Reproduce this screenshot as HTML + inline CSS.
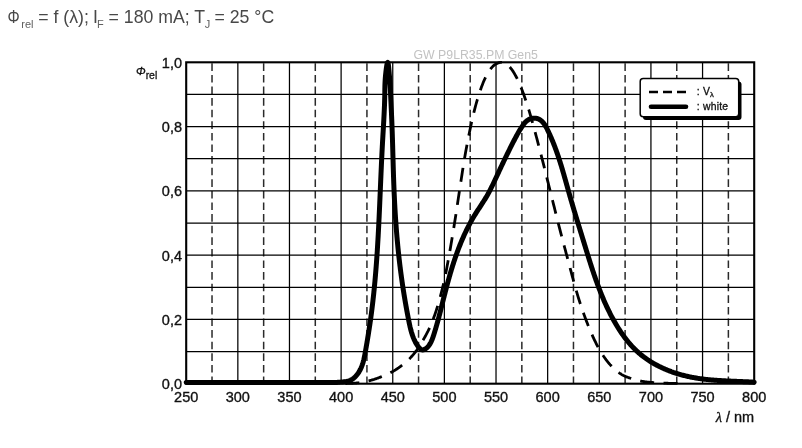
<!DOCTYPE html>
<html><head><meta charset="utf-8"><style>
html,body{margin:0;padding:0;background:#fff;width:802px;height:448px;overflow:hidden}
svg{display:block;will-change:transform}
text{font-family:"Liberation Sans",sans-serif}
.g{stroke:#000;stroke-width:1.25}
.gd{stroke:#2a2a2a;stroke-width:1.5;stroke-dasharray:7.6 4;stroke-dashoffset:-1}
.frame{fill:none;stroke:#000;stroke-width:2.1}
.vl{fill:none;stroke:#000;stroke-width:2.8;stroke-dasharray:14 9.4;stroke-dashoffset:21.9}
.wh{fill:none;stroke:#000;stroke-width:5;stroke-linejoin:round;stroke-linecap:round}
.lg{font-size:10.4px;fill:#111;letter-spacing:0.2px;stroke:#111;stroke-width:0.3px}
.ax{font-size:14.5px;fill:#111;stroke:#111;stroke-width:0.35px}
.phi{font-size:11.5px;fill:#111;stroke:#111;stroke-width:0.3px}
.wm{font-size:12.3px;fill:#c2c2c2}
.title text{font-size:17.7px;fill:#484848}
</style></head><body>
<svg width="802" height="448" viewBox="0 0 802 448">
<line x1="237.84" y1="62.3" x2="237.84" y2="383.7" class="g"/>
<line x1="289.47" y1="62.3" x2="289.47" y2="383.7" class="g"/>
<line x1="341.11" y1="62.3" x2="341.11" y2="383.7" class="g"/>
<line x1="392.75" y1="62.3" x2="392.75" y2="383.7" class="g"/>
<line x1="444.38" y1="62.3" x2="444.38" y2="383.7" class="g"/>
<line x1="496.02" y1="62.3" x2="496.02" y2="383.7" class="g"/>
<line x1="547.65" y1="62.3" x2="547.65" y2="383.7" class="g"/>
<line x1="599.29" y1="62.3" x2="599.29" y2="383.7" class="g"/>
<line x1="650.93" y1="62.3" x2="650.93" y2="383.7" class="g"/>
<line x1="702.56" y1="62.3" x2="702.56" y2="383.7" class="g"/>
<line x1="212.02" y1="62.3" x2="212.02" y2="383.7" class="gd"/>
<line x1="263.65" y1="62.3" x2="263.65" y2="383.7" class="gd"/>
<line x1="315.29" y1="62.3" x2="315.29" y2="383.7" class="gd"/>
<line x1="366.93" y1="62.3" x2="366.93" y2="383.7" class="gd"/>
<line x1="418.56" y1="62.3" x2="418.56" y2="383.7" class="gd"/>
<line x1="470.20" y1="62.3" x2="470.20" y2="383.7" class="gd"/>
<line x1="521.84" y1="62.3" x2="521.84" y2="383.7" class="gd"/>
<line x1="573.47" y1="62.3" x2="573.47" y2="383.7" class="gd"/>
<line x1="625.11" y1="62.3" x2="625.11" y2="383.7" class="gd"/>
<line x1="676.75" y1="62.3" x2="676.75" y2="383.7" class="gd"/>
<line x1="728.38" y1="62.3" x2="728.38" y2="383.7" class="gd"/>
<line x1="186.2" y1="351.56" x2="754.2" y2="351.56" class="g"/>
<line x1="186.2" y1="319.42" x2="754.2" y2="319.42" class="g"/>
<line x1="186.2" y1="287.28" x2="754.2" y2="287.28" class="g"/>
<line x1="186.2" y1="255.14" x2="754.2" y2="255.14" class="g"/>
<line x1="186.2" y1="223.00" x2="754.2" y2="223.00" class="g"/>
<line x1="186.2" y1="190.86" x2="754.2" y2="190.86" class="g"/>
<line x1="186.2" y1="158.72" x2="754.2" y2="158.72" class="g"/>
<line x1="186.2" y1="126.58" x2="754.2" y2="126.58" class="g"/>
<line x1="186.2" y1="94.44" x2="754.2" y2="94.44" class="g"/>
<rect x="186.2" y="62.3" width="568.00" height="321.40" class="frame"/>
<path d="M320.45,383.69 L320.97,383.69 L321.49,383.69 L322.00,383.69 L322.52,383.69 L323.04,383.68 L323.55,383.68 L324.07,383.68 L324.59,383.68 L325.10,383.68 L325.62,383.68 L326.13,383.68 L326.65,383.68 L327.17,383.68 L327.68,383.67 L328.20,383.67 L328.72,383.67 L329.23,383.67 L329.75,383.67 L330.27,383.66 L330.78,383.66 L331.30,383.66 L331.81,383.66 L332.33,383.65 L332.85,383.65 L333.36,383.65 L333.88,383.64 L334.40,383.64 L334.91,383.64 L335.43,383.63 L335.95,383.63 L336.46,383.63 L336.98,383.62 L337.49,383.62 L338.01,383.61 L338.53,383.60 L339.04,383.60 L339.56,383.59 L340.08,383.59 L340.59,383.58 L341.11,383.57 L341.63,383.57 L342.14,383.56 L342.66,383.55 L343.17,383.55 L343.69,383.54 L344.21,383.53 L344.72,383.52 L345.24,383.51 L345.76,383.50 L346.27,383.49 L346.79,383.48 L347.31,383.47 L347.82,383.45 L348.34,383.44 L348.85,383.42 L349.37,383.40 L349.89,383.38 L350.40,383.36 L350.92,383.33 L351.44,383.31 L351.95,383.29 L352.47,383.26 L352.99,383.24 L353.50,383.21 L354.02,383.18 L354.53,383.15 L355.05,383.11 L355.57,383.08 L356.08,383.04 L356.60,383.00 L357.12,382.96 L357.63,382.91 L358.15,382.86 L358.67,382.81 L359.18,382.75 L359.70,382.69 L360.21,382.63 L360.73,382.56 L361.25,382.49 L361.76,382.41 L362.28,382.33 L362.80,382.25 L363.31,382.15 L363.83,382.05 L364.35,381.94 L364.86,381.83 L365.38,381.71 L365.89,381.59 L366.41,381.47 L366.93,381.35 L367.44,381.23 L367.96,381.11 L368.48,380.97 L368.99,380.84 L369.51,380.70 L370.03,380.56 L370.54,380.42 L371.06,380.27 L371.57,380.12 L372.09,379.97 L372.61,379.82 L373.12,379.66 L373.64,379.50 L374.16,379.34 L374.67,379.17 L375.19,379.00 L375.71,378.82 L376.22,378.65 L376.74,378.47 L377.25,378.29 L377.77,378.10 L378.29,377.92 L378.80,377.72 L379.32,377.53 L379.84,377.33 L380.35,377.13 L380.87,376.93 L381.39,376.72 L381.90,376.52 L382.42,376.31 L382.93,376.10 L383.45,375.89 L383.97,375.68 L384.48,375.47 L385.00,375.25 L385.52,375.04 L386.03,374.81 L386.55,374.59 L387.07,374.36 L387.58,374.12 L388.10,373.88 L388.61,373.64 L389.13,373.38 L389.65,373.13 L390.16,372.87 L390.68,372.60 L391.20,372.33 L391.71,372.06 L392.23,371.77 L392.75,371.49 L393.26,371.19 L393.78,370.89 L394.29,370.59 L394.81,370.28 L395.33,369.96 L395.84,369.63 L396.36,369.30 L396.88,368.96 L397.39,368.62 L397.91,368.27 L398.43,367.92 L398.94,367.56 L399.46,367.19 L399.97,366.81 L400.49,366.42 L401.01,366.03 L401.52,365.64 L402.04,365.23 L402.56,364.83 L403.07,364.42 L403.59,364.00 L404.11,363.58 L404.62,363.15 L405.14,362.72 L405.65,362.28 L406.17,361.83 L406.69,361.38 L407.20,360.91 L407.72,360.44 L408.24,359.95 L408.75,359.45 L409.27,358.94 L409.79,358.43 L410.30,357.90 L410.82,357.35 L411.33,356.80 L411.85,356.24 L412.37,355.66 L412.88,355.07 L413.40,354.46 L413.92,353.84 L414.43,353.20 L414.95,352.54 L415.47,351.86 L415.98,351.17 L416.50,350.47 L417.01,349.75 L417.53,349.02 L418.05,348.27 L418.56,347.51 L419.08,346.74 L419.60,345.94 L420.11,345.12 L420.63,344.29 L421.15,343.44 L421.66,342.58 L422.18,341.70 L422.69,340.82 L423.21,339.92 L423.73,339.02 L424.24,338.11 L424.76,337.20 L425.28,336.27 L425.79,335.34 L426.31,334.38 L426.83,333.41 L427.34,332.42 L427.86,331.41 L428.37,330.36 L428.89,329.29 L429.41,328.18 L429.92,327.05 L430.44,325.88 L430.96,324.69 L431.47,323.46 L431.99,322.20 L432.51,320.91 L433.02,319.59 L433.54,318.23 L434.05,316.84 L434.57,315.41 L435.09,313.93 L435.60,312.41 L436.12,310.84 L436.64,309.23 L437.15,307.58 L437.67,305.89 L438.19,304.16 L438.70,302.39 L439.22,300.59 L439.73,298.74 L440.25,296.85 L440.77,294.92 L441.28,292.93 L441.80,290.89 L442.32,288.80 L442.83,286.66 L443.35,284.46 L443.87,282.20 L444.38,279.89 L444.90,277.49 L445.41,274.99 L445.93,272.40 L446.45,269.74 L446.96,267.01 L447.48,264.23 L448.00,261.40 L448.51,258.55 L449.03,255.67 L449.55,252.79 L450.06,249.89 L450.58,246.94 L451.09,243.94 L451.61,240.91 L452.13,237.84 L452.64,234.74 L453.16,231.60 L453.68,228.44 L454.19,225.25 L454.71,222.04 L455.23,218.78 L455.74,215.46 L456.26,212.09 L456.77,208.69 L457.29,205.26 L457.81,201.82 L458.32,198.39 L458.84,194.97 L459.36,191.58 L459.87,188.22 L460.39,184.88 L460.91,181.51 L461.42,178.12 L461.94,174.74 L462.45,171.39 L462.97,168.07 L463.49,164.80 L464.00,161.61 L464.52,158.51 L465.04,155.51 L465.55,152.59 L466.07,149.73 L466.59,146.93 L467.10,144.18 L467.62,141.48 L468.13,138.84 L468.65,136.25 L469.17,133.70 L469.68,131.21 L470.20,128.77 L470.72,126.36 L471.23,123.98 L471.75,121.64 L472.27,119.34 L472.78,117.09 L473.30,114.88 L473.81,112.73 L474.33,110.64 L474.85,108.61 L475.36,106.65 L475.88,104.75 L476.40,102.89 L476.91,101.07 L477.43,99.30 L477.95,97.57 L478.46,95.88 L478.98,94.25 L479.49,92.67 L480.01,91.14 L480.53,89.67 L481.04,88.23 L481.56,86.83 L482.08,85.46 L482.59,84.13 L483.11,82.83 L483.63,81.58 L484.14,80.38 L484.66,79.22 L485.17,78.13 L485.69,77.08 L486.21,76.08 L486.72,75.10 L487.24,74.15 L487.76,73.23 L488.27,72.35 L488.79,71.51 L489.31,70.71 L489.82,69.96 L490.34,69.27 L490.85,68.63 L491.37,68.03 L491.89,67.44 L492.40,66.88 L492.92,66.34 L493.44,65.82 L493.95,65.35 L494.47,64.91 L494.99,64.53 L495.50,64.20 L496.02,63.92 L496.53,63.68 L497.05,63.45 L497.57,63.22 L498.08,63.00 L498.60,62.81 L499.12,62.64 L499.63,62.50 L500.15,62.39 L500.67,62.32 L501.18,62.30 L501.70,62.32 L502.21,62.39 L502.73,62.49 L503.25,62.63 L503.76,62.80 L504.28,62.99 L504.80,63.20 L505.31,63.42 L505.83,63.66 L506.35,63.91 L506.86,64.20 L507.38,64.56 L507.89,65.00 L508.41,65.49 L508.93,66.04 L509.44,66.62 L509.96,67.24 L510.48,67.87 L510.99,68.52 L511.51,69.18 L512.03,69.86 L512.54,70.58 L513.06,71.36 L513.57,72.18 L514.09,73.03 L514.61,73.92 L515.12,74.84 L515.64,75.78 L516.16,76.74 L516.67,77.73 L517.19,78.74 L517.71,79.80 L518.22,80.90 L518.74,82.04 L519.25,83.22 L519.77,84.42 L520.29,85.66 L520.80,86.92 L521.32,88.20 L521.84,89.49 L522.35,90.81 L522.87,92.17 L523.39,93.56 L523.90,94.98 L524.42,96.44 L524.93,97.92 L525.45,99.43 L525.97,100.96 L526.48,102.51 L527.00,104.08 L527.52,105.68 L528.03,107.32 L528.55,108.99 L529.07,110.70 L529.58,112.42 L530.10,114.18 L530.61,115.95 L531.13,117.73 L531.65,119.53 L532.16,121.34 L532.68,123.17 L533.20,125.02 L533.71,126.89 L534.23,128.79 L534.75,130.70 L535.26,132.62 L535.78,134.56 L536.29,136.50 L536.81,138.45 L537.33,140.40 L537.84,142.36 L538.36,144.32 L538.88,146.30 L539.39,148.29 L539.91,150.29 L540.43,152.29 L540.94,154.30 L541.46,156.32 L541.97,158.34 L542.49,160.36 L543.01,162.39 L543.52,164.43 L544.04,166.47 L544.56,168.53 L545.07,170.59 L545.59,172.65 L546.11,174.71 L546.62,176.77 L547.14,178.84 L547.65,180.90 L548.17,182.96 L548.69,185.02 L549.20,187.08 L549.72,189.15 L550.24,191.22 L550.75,193.28 L551.27,195.35 L551.79,197.41 L552.30,199.47 L552.82,201.53 L553.33,203.59 L553.85,205.65 L554.37,207.71 L554.88,209.77 L555.40,211.83 L555.92,213.89 L556.43,215.94 L556.95,217.98 L557.47,220.01 L557.98,222.04 L558.50,224.05 L559.01,226.06 L559.53,228.06 L560.05,230.05 L560.56,232.04 L561.08,234.02 L561.60,236.00 L562.11,237.97 L562.63,239.94 L563.15,241.90 L563.66,243.85 L564.18,245.80 L564.69,247.74 L565.21,249.68 L565.73,251.61 L566.24,253.54 L566.76,255.46 L567.28,257.39 L567.79,259.32 L568.31,261.25 L568.83,263.18 L569.34,265.13 L569.86,267.08 L570.37,269.03 L570.89,270.98 L571.41,272.92 L571.92,274.85 L572.44,276.76 L572.96,278.66 L573.47,280.53 L573.99,282.39 L574.51,284.25 L575.02,286.11 L575.54,287.95 L576.05,289.78 L576.57,291.59 L577.09,293.37 L577.60,295.13 L578.12,296.85 L578.64,298.53 L579.15,300.18 L579.67,301.80 L580.19,303.40 L580.70,304.97 L581.22,306.52 L581.73,308.05 L582.25,309.55 L582.77,311.04 L583.28,312.51 L583.80,313.96 L584.32,315.39 L584.83,316.80 L585.35,318.19 L585.87,319.57 L586.38,320.93 L586.90,322.27 L587.41,323.59 L587.93,324.90 L588.45,326.19 L588.96,327.45 L589.48,328.71 L590.00,329.95 L590.51,331.18 L591.03,332.39 L591.55,333.59 L592.06,334.77 L592.58,335.93 L593.09,337.07 L593.61,338.19 L594.13,339.28 L594.64,340.36 L595.16,341.43 L595.68,342.48 L596.19,343.51 L596.71,344.53 L597.23,345.53 L597.74,346.50 L598.26,347.46 L598.77,348.40 L599.29,349.31 L599.81,350.20 L600.32,351.08 L600.84,351.94 L601.36,352.78 L601.87,353.60 L602.39,354.41 L602.91,355.20 L603.42,355.98 L603.94,356.73 L604.45,357.47 L604.97,358.20 L605.49,358.91 L606.00,359.61 L606.52,360.29 L607.04,360.96 L607.55,361.62 L608.07,362.26 L608.59,362.89 L609.10,363.50 L609.62,364.09 L610.13,364.68 L610.65,365.25 L611.17,365.81 L611.68,366.36 L612.20,366.90 L612.72,367.42 L613.23,367.93 L613.75,368.43 L614.27,368.91 L614.78,369.37 L615.30,369.83 L615.81,370.27 L616.33,370.71 L616.85,371.13 L617.36,371.55 L617.88,371.95 L618.40,372.34 L618.91,372.72 L619.43,373.07 L619.95,373.42 L620.46,373.74 L620.98,374.06 L621.49,374.37 L622.01,374.67 L622.53,374.95 L623.04,375.23 L623.56,375.50 L624.08,375.76 L624.59,376.00 L625.11,376.24 L625.63,376.47 L626.14,376.69 L626.66,376.90 L627.17,377.11 L627.69,377.31 L628.21,377.50 L628.72,377.69 L629.24,377.87 L629.76,378.06 L630.27,378.24 L630.79,378.41 L631.31,378.59 L631.82,378.77 L632.34,378.94 L632.85,379.10 L633.37,379.27 L633.89,379.43 L634.40,379.58 L634.92,379.73 L635.44,379.87 L635.95,380.01 L636.47,380.14 L636.99,380.27 L637.50,380.40 L638.02,380.52 L638.53,380.64 L639.05,380.75 L639.57,380.86 L640.08,380.96 L640.60,381.06 L641.12,381.16 L641.63,381.25 L642.15,381.33 L642.67,381.42 L643.18,381.50 L643.70,381.58 L644.21,381.66 L644.73,381.73 L645.25,381.80 L645.76,381.86 L646.28,381.92 L646.80,381.98 L647.31,382.04 L647.83,382.09 L648.35,382.15 L648.86,382.20 L649.38,382.24 L649.89,382.29 L650.41,382.34 L650.93,382.38 L651.44,382.42 L651.96,382.47 L652.48,382.51 L652.99,382.55 L653.51,382.59 L654.03,382.62 L654.54,382.66 L655.06,382.69 L655.57,382.73 L656.09,382.76 L656.61,382.79 L657.12,382.82 L657.64,382.85 L658.16,382.88 L658.67,382.90 L659.19,382.93 L659.71,382.96 L660.22,382.98 L660.74,383.00 L661.25,383.03 L661.77,383.05 L662.29,383.07 L662.80,383.09 L663.32,383.11 L663.84,383.13 L664.35,383.15 L664.87,383.17 L665.39,383.19 L665.90,383.21 L666.42,383.22 L666.93,383.24 L667.45,383.25 L667.97,383.27 L668.48,383.28 L669.00,383.30 L669.52,383.31 L670.03,383.33 L670.55,383.34 L671.07,383.35 L671.58,383.36 L672.10,383.37 L672.61,383.39 L673.13,383.40 L673.65,383.41 L674.16,383.42 L674.68,383.43 L675.20,383.44 L675.71,383.45 L676.23,383.45 L676.75,383.46 L677.26,383.47 L677.78,383.48 L678.29,383.49 L678.81,383.49 L679.33,383.50 L679.84,383.51 L680.36,383.51 L680.88,383.52 L681.39,383.53 L681.91,383.53" class="vl"/>
<path d="M186.20,382.41 L336.98,382.43 L337.81,382.35 L338.65,382.27 L339.49,382.20 L340.34,382.13 L341.20,382.06 L342.06,381.99 L342.92,381.91 L343.77,381.82 L344.63,381.71 L345.47,381.59 L346.32,381.44 L347.15,381.26 L347.97,381.06 L348.78,380.82 L349.57,380.55 L350.35,380.23 L351.11,379.87 L351.85,379.47 L352.57,379.01 L353.26,378.51 L353.94,377.97 L354.59,377.40 L355.22,376.78 L355.83,376.14 L356.42,375.47 L356.98,374.78 L357.52,374.06 L358.04,373.33 L358.54,372.58 L359.01,371.83 L359.46,371.06 L359.88,370.29 L360.29,369.52 L360.67,368.75 L361.03,367.97 L361.37,367.19 L361.69,366.41 L361.99,365.63 L362.28,364.84 L362.54,364.05 L362.80,363.26 L363.04,362.46 L363.27,361.67 L363.48,360.87 L363.69,360.07 L363.88,359.26 L364.06,358.46 L364.24,357.65 L364.41,356.84 L364.57,356.03 L364.73,355.22 L364.89,354.40 L365.04,353.58 L365.18,352.77 L365.33,351.94 L365.48,351.12 L365.62,350.30 L365.77,349.47 L365.92,348.65 L366.06,347.82 L366.21,346.99 L366.35,346.15 L366.49,345.32 L366.64,344.49 L366.78,343.65 L366.92,342.81 L367.06,341.98 L367.21,341.14 L367.35,340.30 L367.49,339.45 L367.63,338.61 L367.77,337.77 L367.90,336.92 L368.04,336.08 L368.18,335.23 L368.31,334.39 L368.45,333.54 L368.58,332.69 L368.72,331.84 L368.85,330.99 L368.98,330.14 L369.11,329.29 L369.24,328.44 L369.37,327.59 L369.50,326.74 L369.63,325.89 L369.76,325.03 L369.88,324.18 L370.01,323.33 L370.13,322.48 L370.25,321.62 L370.38,320.77 L370.50,319.92 L370.62,319.07 L370.73,318.21 L370.85,317.36 L370.97,316.51 L371.08,315.66 L371.20,314.80 L371.31,313.95 L371.42,313.10 L371.53,312.25 L371.64,311.40 L371.75,310.55 L371.86,309.69 L371.97,308.84 L372.07,307.99 L372.18,307.14 L372.28,306.29 L372.38,305.44 L372.49,304.58 L372.59,303.73 L372.69,302.88 L372.79,302.03 L372.89,301.18 L372.98,300.33 L373.08,299.48 L373.17,298.63 L373.27,297.78 L373.36,296.93 L373.45,296.08 L373.55,295.23 L373.64,294.38 L373.73,293.52 L373.82,292.67 L373.90,291.82 L373.99,290.97 L374.08,290.12 L374.16,289.27 L374.25,288.42 L374.33,287.57 L374.42,286.72 L374.50,285.87 L374.58,285.02 L374.66,284.17 L374.74,283.32 L374.82,282.47 L374.90,281.62 L374.98,280.77 L375.05,279.93 L375.13,279.08 L375.20,278.23 L375.28,277.38 L375.35,276.53 L375.43,275.68 L375.50,274.83 L375.57,273.98 L375.64,273.13 L375.71,272.28 L375.78,271.43 L375.85,270.58 L375.92,269.73 L375.99,268.88 L376.05,268.03 L376.12,267.19 L376.18,266.34 L376.25,265.49 L376.31,264.64 L376.38,263.79 L376.44,262.94 L376.50,262.09 L376.56,261.24 L376.63,260.39 L376.69,259.55 L376.75,258.70 L376.81,257.85 L376.86,257.00 L376.92,256.15 L376.98,255.30 L377.04,254.45 L377.09,253.60 L377.15,252.76 L377.21,251.91 L377.26,251.06 L377.32,250.21 L377.37,249.36 L377.42,248.51 L377.48,247.66 L377.53,246.82 L377.58,245.97 L377.63,245.12 L377.68,244.27 L377.73,243.42 L377.78,242.57 L377.83,241.72 L377.88,240.88 L377.93,240.03 L377.98,239.18 L378.03,238.33 L378.08,237.48 L378.12,236.63 L378.17,235.78 L378.22,234.94 L378.26,234.09 L378.31,233.24 L378.35,232.39 L378.40,231.54 L378.44,230.69 L378.49,229.84 L378.53,229.00 L378.58,228.15 L378.62,227.30 L378.66,226.45 L378.70,225.60 L378.75,224.75 L378.79,223.90 L378.83,223.06 L378.87,222.21 L378.91,221.36 L378.95,220.51 L378.99,219.66 L379.04,218.81 L379.08,217.96 L379.12,217.11 L379.16,216.27 L379.19,215.42 L379.23,214.57 L379.27,213.72 L379.31,212.87 L379.35,212.02 L379.39,211.17 L379.43,210.32 L379.47,209.47 L379.50,208.62 L379.54,207.78 L379.58,206.93 L379.62,206.08 L379.65,205.23 L379.69,204.38 L379.73,203.53 L379.76,202.68 L379.80,201.83 L379.84,200.98 L379.88,200.13 L379.91,199.28 L379.95,198.43 L379.98,197.58 L380.02,196.73 L380.06,195.88 L380.09,195.03 L380.13,194.18 L380.17,193.33 L380.20,192.48 L380.24,191.63 L380.27,190.78 L380.31,189.93 L380.35,189.08 L380.38,188.23 L380.42,187.38 L380.45,186.53 L380.49,185.68 L380.53,184.83 L380.56,183.98 L380.60,183.13 L380.64,182.28 L380.67,181.43 L380.71,180.58 L380.75,179.73 L380.78,178.88 L380.82,178.03 L380.86,177.18 L380.89,176.33 L380.93,175.48 L380.97,174.63 L381.00,173.77 L381.04,172.92 L381.08,172.07 L381.12,171.22 L381.15,170.37 L381.19,169.52 L381.23,168.67 L381.27,167.81 L381.31,166.96 L381.35,166.11 L381.38,165.26 L381.42,164.41 L381.46,163.55 L381.50,162.70 L381.54,161.85 L381.58,161.00 L381.62,160.15 L381.66,159.29 L381.70,158.44 L381.74,157.59 L381.79,156.74 L381.83,155.88 L381.87,155.03 L381.91,154.18 L381.95,153.32 L382.00,152.47 L382.04,151.62 L382.08,150.76 L382.13,149.91 L382.17,149.06 L382.22,148.20 L382.26,147.35 L382.30,146.50 L382.35,145.64 L382.40,144.79 L382.44,143.93 L382.49,143.08 L382.54,142.23 L382.58,141.37 L382.63,140.52 L382.68,139.66 L382.73,138.81 L382.78,137.95 L382.83,137.10 L382.88,136.24 L382.92,135.38 L382.97,134.53 L383.02,133.67 L383.07,132.81 L383.13,131.95 L383.18,131.09 L383.23,130.22 L383.28,129.36 L383.33,128.49 L383.38,127.62 L383.43,126.75 L383.47,125.88 L383.52,125.00 L383.57,124.12 L383.62,123.25 L383.67,122.37 L383.72,121.49 L383.77,120.61 L383.81,119.72 L383.86,118.84 L383.90,117.96 L383.95,117.08 L383.99,116.20 L384.04,115.32 L384.08,114.44 L384.12,113.57 L384.16,112.69 L384.20,111.82 L384.24,110.95 L384.28,110.08 L384.32,109.22 L384.36,108.36 L384.39,107.50 L384.43,106.65 L384.46,105.80 L384.49,104.95 L384.52,104.11 L384.55,103.28 L384.58,102.45 L384.61,101.62 L384.63,100.80 L384.66,99.99 L384.68,99.18 L384.70,98.38 L384.72,97.58 L384.74,96.80 L384.75,96.02 L384.77,95.25 L384.78,94.48 L384.79,93.72 L384.80,92.97 L384.81,92.23 L384.82,91.49 L384.82,90.75 L384.83,90.01 L384.84,89.27 L384.85,88.53 L384.87,87.78 L384.88,87.03 L384.90,86.27 L384.92,85.50 L384.94,84.72 L384.97,83.93 L385.01,83.12 L385.04,82.30 L385.09,81.47 L385.14,80.61 L385.19,79.74 L385.25,78.84 L385.32,77.92 L385.40,76.98 L385.49,76.01 L385.58,75.01 L385.68,73.98 L385.80,72.93 L385.92,71.84 L386.05,70.71 L386.19,69.56 L386.35,68.39 L386.51,67.23 L386.67,66.13 L386.84,65.10 L387.02,64.20 L387.19,63.44 L387.36,62.86 L387.53,62.49 L387.70,62.38 L387.86,62.52 L388.01,62.91 L388.15,63.51 L388.29,64.29 L388.42,65.21 L388.55,66.24 L388.67,67.35 L388.78,68.51 L388.89,69.69 L389.00,70.84 L389.10,71.96 L389.19,73.05 L389.28,74.10 L389.37,75.12 L389.45,76.12 L389.52,77.09 L389.60,78.03 L389.67,78.95 L389.73,79.84 L389.80,80.71 L389.86,81.57 L389.92,82.40 L389.97,83.22 L390.02,84.02 L390.07,84.81 L390.12,85.59 L390.17,86.36 L390.21,87.12 L390.25,87.87 L390.29,88.62 L390.33,89.36 L390.37,90.10 L390.41,90.83 L390.45,91.57 L390.48,92.31 L390.52,93.05 L390.56,93.80 L390.59,94.56 L390.63,95.32 L390.67,96.09 L390.71,96.86 L390.75,97.65 L390.78,98.44 L390.82,99.24 L390.86,100.04 L390.90,100.85 L390.94,101.66 L390.98,102.49 L391.02,103.31 L391.06,104.14 L391.09,104.98 L391.13,105.82 L391.17,106.67 L391.21,107.52 L391.25,108.37 L391.29,109.23 L391.33,110.09 L391.37,110.95 L391.41,111.82 L391.45,112.69 L391.48,113.56 L391.52,114.43 L391.56,115.31 L391.60,116.19 L391.64,117.07 L391.67,117.95 L391.71,118.83 L391.75,119.71 L391.78,120.60 L391.82,121.48 L391.85,122.36 L391.89,123.25 L391.92,124.13 L391.96,125.01 L391.99,125.89 L392.02,126.77 L392.06,127.65 L392.09,128.53 L392.12,129.41 L392.15,130.28 L392.18,131.16 L392.21,132.03 L392.24,132.90 L392.27,133.77 L392.30,134.64 L392.33,135.51 L392.35,136.38 L392.38,137.24 L392.41,138.11 L392.44,138.97 L392.46,139.84 L392.49,140.70 L392.52,141.56 L392.54,142.42 L392.57,143.28 L392.59,144.14 L392.62,145.00 L392.64,145.86 L392.67,146.71 L392.69,147.57 L392.72,148.43 L392.74,149.28 L392.77,150.13 L392.79,150.99 L392.81,151.84 L392.84,152.69 L392.86,153.54 L392.88,154.39 L392.91,155.24 L392.93,156.09 L392.96,156.94 L392.98,157.79 L393.00,158.64 L393.03,159.49 L393.05,160.33 L393.07,161.18 L393.10,162.03 L393.12,162.87 L393.15,163.72 L393.17,164.57 L393.19,165.41 L393.22,166.26 L393.24,167.10 L393.27,167.95 L393.29,168.79 L393.32,169.64 L393.34,170.48 L393.37,171.32 L393.40,172.17 L393.42,173.01 L393.45,173.86 L393.47,174.70 L393.50,175.54 L393.53,176.39 L393.56,177.23 L393.59,178.08 L393.61,178.92 L393.64,179.76 L393.67,180.61 L393.70,181.45 L393.73,182.30 L393.76,183.14 L393.79,183.99 L393.83,184.83 L393.86,185.68 L393.89,186.53 L393.92,187.37 L393.96,188.22 L393.99,189.07 L394.03,189.91 L394.06,190.76 L394.10,191.61 L394.13,192.46 L394.17,193.31 L394.21,194.16 L394.25,195.01 L394.29,195.86 L394.33,196.71 L394.37,197.56 L394.41,198.41 L394.45,199.26 L394.49,200.12 L394.54,200.97 L394.58,201.82 L394.62,202.67 L394.67,203.53 L394.71,204.38 L394.76,205.23 L394.81,206.09 L394.85,206.94 L394.90,207.79 L394.95,208.65 L395.00,209.50 L395.05,210.36 L395.10,211.21 L395.15,212.07 L395.21,212.92 L395.26,213.78 L395.31,214.63 L395.37,215.49 L395.42,216.34 L395.48,217.20 L395.53,218.06 L395.59,218.91 L395.65,219.77 L395.71,220.62 L395.77,221.48 L395.83,222.33 L395.89,223.19 L395.95,224.04 L396.01,224.90 L396.08,225.75 L396.14,226.61 L396.20,227.46 L396.27,228.32 L396.33,229.17 L396.40,230.03 L396.47,230.88 L396.54,231.74 L396.61,232.59 L396.68,233.44 L396.75,234.30 L396.82,235.15 L396.89,236.01 L396.96,236.86 L397.04,237.71 L397.11,238.56 L397.19,239.42 L397.26,240.27 L397.34,241.12 L397.42,241.97 L397.50,242.82 L397.58,243.67 L397.66,244.52 L397.74,245.37 L397.82,246.22 L397.90,247.07 L397.99,247.92 L398.07,248.77 L398.16,249.61 L398.24,250.46 L398.33,251.31 L398.42,252.15 L398.51,253.00 L398.60,253.84 L398.69,254.69 L398.78,255.53 L398.87,256.38 L398.96,257.22 L399.06,258.06 L399.15,258.90 L399.25,259.75 L399.35,260.59 L399.44,261.43 L399.54,262.27 L399.64,263.11 L399.74,263.95 L399.84,264.79 L399.94,265.62 L400.05,266.46 L400.15,267.30 L400.26,268.14 L400.36,268.98 L400.47,269.81 L400.58,270.65 L400.68,271.49 L400.79,272.33 L400.90,273.16 L401.01,274.00 L401.13,274.83 L401.24,275.67 L401.35,276.51 L401.47,277.34 L401.59,278.18 L401.70,279.01 L401.82,279.85 L401.94,280.69 L402.06,281.52 L402.18,282.36 L402.30,283.19 L402.42,284.03 L402.55,284.87 L402.67,285.70 L402.80,286.54 L402.93,287.38 L403.05,288.21 L403.18,289.05 L403.31,289.89 L403.44,290.72 L403.58,291.56 L403.71,292.40 L403.84,293.24 L403.98,294.07 L404.11,294.91 L404.25,295.75 L404.39,296.59 L404.53,297.43 L404.67,298.27 L404.81,299.11 L404.95,299.95 L405.09,300.79 L405.24,301.63 L405.38,302.48 L405.53,303.32 L405.68,304.16 L405.83,305.01 L405.98,305.85 L406.13,306.69 L406.28,307.54 L406.43,308.38 L406.59,309.23 L406.74,310.08 L406.90,310.93 L407.06,311.77 L407.21,312.62 L407.37,313.47 L407.53,314.32 L407.70,315.18 L407.86,316.03 L408.02,316.88 L408.19,317.73 L408.35,318.59 L408.52,319.44 L408.69,320.30 L408.86,321.16 L409.03,322.01 L409.21,322.87 L409.39,323.73 L409.57,324.58 L409.76,325.43 L409.95,326.29 L410.14,327.14 L410.35,327.99 L410.56,328.83 L410.77,329.67 L410.99,330.51 L411.23,331.35 L411.46,332.18 L411.71,333.01 L411.97,333.83 L412.24,334.65 L412.52,335.46 L412.81,336.27 L413.11,337.07 L413.42,337.87 L413.75,338.65 L414.09,339.43 L414.44,340.21 L414.81,340.97 L415.19,341.73 L415.59,342.48 L416.00,343.22 L416.43,343.96 L416.87,344.68 L417.34,345.39 L417.82,346.09 L418.32,346.79 L418.83,347.46 L419.37,348.08 L419.93,348.65 L420.51,349.14 L421.12,349.52 L421.75,349.79 L422.40,349.91 L423.08,349.88 L423.77,349.72 L424.47,349.44 L425.16,349.07 L425.84,348.62 L426.49,348.11 L427.10,347.57 L427.68,346.99 L428.23,346.38 L428.75,345.74 L429.24,345.07 L429.70,344.37 L430.14,343.64 L430.56,342.90 L430.95,342.13 L431.32,341.35 L431.68,340.54 L432.02,339.73 L432.34,338.90 L432.66,338.06 L432.96,337.22 L433.25,336.36 L433.53,335.51 L433.80,334.65 L434.08,333.79 L434.34,332.94 L434.61,332.09 L434.87,331.24 L435.13,330.39 L435.38,329.54 L435.63,328.70 L435.88,327.85 L436.13,327.01 L436.37,326.17 L436.61,325.33 L436.85,324.50 L437.08,323.66 L437.31,322.83 L437.54,322.00 L437.77,321.16 L438.00,320.33 L438.22,319.50 L438.45,318.68 L438.67,317.85 L438.89,317.02 L439.10,316.20 L439.32,315.37 L439.53,314.55 L439.75,313.73 L439.96,312.91 L440.17,312.09 L440.38,311.27 L440.59,310.45 L440.79,309.63 L441.00,308.81 L441.21,307.99 L441.41,307.17 L441.62,306.36 L441.82,305.54 L442.03,304.72 L442.23,303.90 L442.44,303.09 L442.64,302.27 L442.85,301.45 L443.05,300.64 L443.26,299.82 L443.46,299.00 L443.67,298.18 L443.88,297.37 L444.09,296.55 L444.29,295.73 L444.50,294.91 L444.71,294.09 L444.92,293.28 L445.13,292.46 L445.34,291.64 L445.55,290.82 L445.77,290.00 L445.98,289.19 L446.19,288.37 L446.41,287.55 L446.63,286.73 L446.84,285.91 L447.06,285.10 L447.28,284.28 L447.50,283.46 L447.72,282.65 L447.94,281.83 L448.17,281.01 L448.39,280.20 L448.62,279.38 L448.85,278.56 L449.08,277.75 L449.31,276.93 L449.54,276.12 L449.77,275.30 L450.01,274.49 L450.24,273.67 L450.48,272.86 L450.72,272.05 L450.96,271.23 L451.20,270.42 L451.45,269.61 L451.69,268.80 L451.94,267.99 L452.19,267.17 L452.44,266.36 L452.70,265.56 L452.95,264.75 L453.21,263.94 L453.47,263.13 L453.73,262.32 L453.99,261.52 L454.26,260.71 L454.53,259.90 L454.80,259.10 L455.07,258.29 L455.34,257.49 L455.62,256.69 L455.90,255.89 L456.18,255.08 L456.46,254.28 L456.75,253.48 L457.04,252.69 L457.33,251.89 L457.62,251.09 L457.92,250.29 L458.21,249.50 L458.52,248.70 L458.82,247.91 L459.13,247.12 L459.43,246.32 L459.75,245.53 L460.06,244.74 L460.38,243.95 L460.70,243.16 L461.02,242.38 L461.35,241.59 L461.68,240.81 L462.01,240.02 L462.35,239.24 L462.69,238.46 L463.03,237.68 L463.37,236.90 L463.72,236.12 L464.07,235.34 L464.43,234.56 L464.78,233.79 L465.14,233.02 L465.51,232.24 L465.88,231.47 L466.25,230.70 L466.62,229.93 L467.00,229.16 L467.38,228.40 L467.77,227.63 L468.16,226.87 L468.55,226.11 L468.95,225.35 L469.35,224.59 L469.75,223.83 L470.16,223.07 L470.57,222.32 L470.98,221.56 L471.40,220.81 L471.83,220.06 L472.25,219.31 L472.68,218.56 L473.12,217.82 L473.56,217.07 L474.00,216.33 L474.44,215.59 L474.90,214.85 L475.35,214.11 L475.81,213.37 L476.27,212.64 L476.74,211.91 L477.20,211.17 L477.67,210.44 L478.15,209.71 L478.62,208.98 L479.09,208.26 L479.57,207.53 L480.04,206.80 L480.52,206.08 L480.99,205.35 L481.46,204.63 L481.94,203.91 L482.40,203.18 L482.87,202.46 L483.33,201.74 L483.79,201.02 L484.25,200.29 L484.70,199.57 L485.15,198.85 L485.59,198.13 L486.03,197.40 L486.46,196.68 L486.89,195.96 L487.30,195.23 L487.72,194.51 L488.12,193.78 L488.52,193.06 L488.92,192.33 L489.31,191.60 L489.69,190.87 L490.07,190.14 L490.45,189.41 L490.82,188.68 L491.19,187.94 L491.55,187.21 L491.92,186.47 L492.28,185.73 L492.63,184.99 L492.99,184.25 L493.35,183.50 L493.70,182.76 L494.05,182.01 L494.40,181.26 L494.75,180.51 L495.10,179.75 L495.45,178.99 L495.80,178.23 L496.16,177.47 L496.51,176.71 L496.87,175.94 L497.22,175.17 L497.58,174.40 L497.94,173.62 L498.30,172.84 L498.67,172.06 L499.03,171.28 L499.40,170.50 L499.76,169.71 L500.13,168.92 L500.50,168.13 L500.88,167.34 L501.25,166.55 L501.62,165.76 L502.00,164.97 L502.37,164.18 L502.75,163.38 L503.13,162.59 L503.50,161.80 L503.88,161.00 L504.26,160.21 L504.64,159.42 L505.02,158.63 L505.41,157.84 L505.79,157.05 L506.17,156.26 L506.55,155.47 L506.94,154.69 L507.32,153.90 L507.70,153.12 L508.09,152.34 L508.47,151.56 L508.85,150.78 L509.24,150.01 L509.62,149.24 L510.00,148.47 L510.38,147.71 L510.77,146.95 L511.15,146.19 L511.53,145.43 L511.91,144.68 L512.29,143.93 L512.67,143.19 L513.05,142.45 L513.43,141.71 L513.81,140.98 L514.18,140.26 L514.56,139.54 L514.93,138.82 L515.31,138.11 L515.68,137.40 L516.06,136.70 L516.43,136.00 L516.81,135.30 L517.20,134.60 L517.58,133.90 L517.98,133.20 L518.38,132.49 L518.80,131.78 L519.22,131.06 L519.65,130.34 L520.10,129.61 L520.56,128.87 L521.04,128.11 L521.53,127.35 L522.04,126.58 L522.57,125.79 L523.11,125.01 L523.68,124.24 L524.27,123.48 L524.88,122.75 L525.52,122.06 L526.19,121.41 L526.88,120.81 L527.59,120.27 L528.34,119.80 L529.10,119.39 L529.88,119.04 L530.68,118.75 L531.49,118.52 L532.30,118.34 L533.11,118.23 L533.93,118.18 L534.73,118.18 L535.53,118.24 L536.31,118.35 L537.08,118.52 L537.82,118.74 L538.54,119.02 L539.23,119.35 L539.89,119.73 L540.52,120.15 L541.13,120.62 L541.72,121.13 L542.28,121.68 L542.82,122.27 L543.35,122.89 L543.85,123.54 L544.34,124.21 L544.81,124.92 L545.26,125.64 L545.70,126.38 L546.13,127.14 L546.55,127.92 L546.96,128.70 L547.36,129.50 L547.75,130.29 L548.14,131.10 L548.52,131.90 L548.90,132.70 L549.27,133.51 L549.64,134.31 L550.00,135.11 L550.36,135.92 L550.72,136.72 L551.07,137.53 L551.41,138.33 L551.76,139.13 L552.10,139.94 L552.43,140.75 L552.76,141.55 L553.09,142.36 L553.41,143.16 L553.73,143.97 L554.05,144.78 L554.36,145.58 L554.67,146.39 L554.98,147.20 L555.28,148.01 L555.58,148.81 L555.88,149.62 L556.17,150.43 L556.46,151.24 L556.75,152.05 L557.03,152.85 L557.32,153.66 L557.60,154.47 L557.87,155.28 L558.15,156.09 L558.42,156.90 L558.69,157.71 L558.95,158.52 L559.22,159.33 L559.48,160.14 L559.74,160.95 L560.00,161.76 L560.25,162.57 L560.51,163.39 L560.76,164.20 L561.01,165.01 L561.26,165.82 L561.51,166.63 L561.75,167.44 L561.99,168.26 L562.24,169.07 L562.48,169.88 L562.72,170.69 L562.96,171.51 L563.19,172.32 L563.43,173.13 L563.66,173.94 L563.90,174.76 L564.13,175.57 L564.36,176.39 L564.59,177.20 L564.83,178.01 L565.06,178.83 L565.29,179.64 L565.51,180.46 L565.74,181.27 L565.97,182.08 L566.20,182.90 L566.43,183.71 L566.66,184.53 L566.88,185.34 L567.11,186.16 L567.34,186.97 L567.57,187.79 L567.80,188.60 L568.02,189.42 L568.25,190.23 L568.48,191.05 L568.71,191.87 L568.94,192.68 L569.17,193.50 L569.41,194.31 L569.64,195.13 L569.87,195.95 L570.11,196.76 L570.34,197.58 L570.58,198.39 L570.81,199.21 L571.05,200.03 L571.29,200.84 L571.53,201.66 L571.77,202.48 L572.01,203.29 L572.25,204.11 L572.49,204.93 L572.73,205.74 L572.97,206.56 L573.21,207.38 L573.46,208.19 L573.70,209.01 L573.94,209.83 L574.19,210.65 L574.43,211.46 L574.68,212.28 L574.93,213.10 L575.17,213.91 L575.42,214.73 L575.67,215.55 L575.91,216.37 L576.16,217.18 L576.41,218.00 L576.66,218.82 L576.91,219.63 L577.16,220.45 L577.41,221.27 L577.66,222.09 L577.91,222.90 L578.16,223.72 L578.41,224.54 L578.66,225.36 L578.91,226.17 L579.16,226.99 L579.41,227.81 L579.66,228.62 L579.91,229.44 L580.17,230.26 L580.42,231.08 L580.67,231.89 L580.92,232.71 L581.17,233.53 L581.42,234.34 L581.68,235.16 L581.93,235.98 L582.18,236.79 L582.43,237.61 L582.68,238.43 L582.93,239.25 L583.18,240.06 L583.44,240.88 L583.69,241.70 L583.94,242.51 L584.19,243.33 L584.44,244.14 L584.69,244.96 L584.94,245.78 L585.19,246.59 L585.44,247.41 L585.69,248.23 L585.94,249.04 L586.19,249.86 L586.44,250.67 L586.70,251.49 L586.95,252.30 L587.20,253.12 L587.45,253.93 L587.70,254.75 L587.96,255.56 L588.21,256.37 L588.46,257.19 L588.72,258.00 L588.97,258.81 L589.23,259.63 L589.48,260.44 L589.74,261.25 L590.00,262.06 L590.25,262.87 L590.51,263.69 L590.77,264.50 L591.03,265.31 L591.29,266.12 L591.56,266.93 L591.82,267.73 L592.08,268.54 L592.35,269.35 L592.61,270.16 L592.88,270.97 L593.15,271.77 L593.42,272.58 L593.69,273.38 L593.96,274.19 L594.24,274.99 L594.51,275.80 L594.79,276.60 L595.07,277.41 L595.35,278.21 L595.63,279.01 L595.91,279.81 L596.19,280.61 L596.48,281.41 L596.77,282.21 L597.06,283.01 L597.35,283.81 L597.64,284.60 L597.93,285.40 L598.23,286.20 L598.53,286.99 L598.83,287.79 L599.13,288.58 L599.44,289.37 L599.74,290.16 L600.05,290.96 L600.36,291.75 L600.67,292.54 L600.99,293.32 L601.31,294.11 L601.63,294.90 L601.95,295.69 L602.27,296.47 L602.60,297.26 L602.93,298.04 L603.26,298.82 L603.59,299.60 L603.93,300.38 L604.27,301.16 L604.61,301.94 L604.95,302.72 L605.30,303.50 L605.65,304.27 L606.00,305.05 L606.36,305.82 L606.72,306.60 L607.08,307.37 L607.44,308.14 L607.81,308.91 L608.18,309.68 L608.55,310.45 L608.93,311.21 L609.31,311.98 L609.69,312.74 L610.08,313.51 L610.47,314.27 L610.86,315.03 L611.26,315.79 L611.66,316.55 L612.06,317.30 L612.46,318.06 L612.87,318.81 L613.29,319.57 L613.70,320.32 L614.12,321.07 L614.55,321.82 L614.98,322.57 L615.41,323.31 L615.84,324.06 L616.28,324.80 L616.72,325.54 L617.17,326.28 L617.62,327.01 L618.08,327.75 L618.53,328.48 L619.00,329.21 L619.46,329.93 L619.93,330.66 L620.41,331.38 L620.89,332.09 L621.37,332.81 L621.86,333.52 L622.35,334.22 L622.85,334.93 L623.35,335.63 L623.85,336.32 L624.36,337.02 L624.88,337.71 L625.40,338.39 L625.92,339.07 L626.45,339.75 L626.98,340.42 L627.52,341.09 L628.06,341.75 L628.60,342.41 L629.16,343.06 L629.71,343.71 L630.27,344.35 L630.84,344.99 L631.41,345.63 L631.99,346.25 L632.57,346.88 L633.15,347.49 L633.74,348.10 L634.34,348.71 L634.94,349.31 L635.55,349.90 L636.16,350.49 L636.78,351.07 L637.40,351.65 L638.03,352.22 L638.66,352.78 L639.30,353.33 L639.94,353.88 L640.59,354.43 L641.25,354.96 L641.91,355.49 L642.57,356.02 L643.24,356.53 L643.91,357.05 L644.59,357.55 L645.28,358.05 L645.96,358.54 L646.66,359.03 L647.35,359.51 L648.05,359.98 L648.76,360.45 L649.47,360.91 L650.18,361.37 L650.90,361.82 L651.62,362.26 L652.35,362.70 L653.08,363.13 L653.82,363.56 L654.55,363.97 L655.29,364.39 L656.04,364.80 L656.79,365.20 L657.54,365.59 L658.30,365.98 L659.06,366.37 L659.82,366.75 L660.58,367.12 L661.35,367.49 L662.12,367.85 L662.90,368.20 L663.68,368.55 L664.46,368.89 L665.24,369.23 L666.03,369.57 L666.82,369.89 L667.61,370.21 L668.40,370.53 L669.20,370.84 L670.00,371.14 L670.80,371.44 L671.60,371.74 L672.41,372.02 L673.21,372.31 L674.02,372.58 L674.84,372.86 L675.65,373.12 L676.47,373.38 L677.28,373.64 L678.10,373.89 L678.92,374.13 L679.75,374.37 L680.57,374.61 L681.40,374.84 L682.22,375.06 L683.05,375.28 L683.88,375.49 L684.71,375.70 L685.54,375.90 L686.37,376.10 L687.21,376.29 L688.04,376.48 L688.88,376.66 L689.71,376.84 L690.55,377.01 L691.39,377.18 L692.22,377.34 L693.06,377.50 L693.90,377.65 L694.74,377.80 L695.58,377.95 L696.42,378.09 L697.26,378.22 L698.11,378.35 L698.95,378.48 L699.79,378.60 L700.63,378.72 L701.48,378.84 L702.32,378.95 L703.17,379.05 L704.01,379.16 L704.86,379.26 L705.71,379.36 L706.55,379.45 L707.40,379.54 L708.25,379.63 L709.09,379.71 L709.94,379.79 L710.79,379.87 L711.64,379.95 L712.49,380.02 L713.34,380.09 L714.19,380.16 L715.04,380.22 L715.89,380.29 L716.74,380.35 L717.59,380.41 L718.44,380.46 L719.29,380.52 L720.14,380.57 L720.99,380.62 L721.84,380.67 L722.70,380.72 L723.55,380.76 L724.40,380.81 L725.25,380.85 L726.10,380.89 L726.96,380.94 L727.81,380.98 L728.66,381.02 L729.51,381.05 L730.37,381.09 L731.22,381.13 L732.07,381.17 L732.92,381.20 L733.78,381.24 L734.63,381.27 L735.48,381.31 L736.33,381.34 L737.19,381.38 L738.04,381.41 L738.89,381.45 L739.74,381.48 L740.59,381.52 L741.45,381.55 L742.30,381.59 L743.15,381.63 L744.00,381.67 L744.85,381.71 L745.70,381.75 L746.55,381.79 L747.40,381.83 L748.25,381.87 L749.10,381.92 L749.95,381.96 L750.80,382.01 L751.65,382.06 L752.50,382.11 L753.35,382.16 L754.20,382.21" class="wh"/>
<rect x="643" y="81.5" width="98.5" height="38.5" rx="3" fill="#000"/>
<rect x="640.2" y="78.4" width="98.5" height="38.3" rx="3" fill="#fff" stroke="#000" stroke-width="1.5"/>
<line x1="649" y1="92" x2="687" y2="92" stroke="#000" stroke-width="2.6" stroke-dasharray="9 5"/>
<line x1="651" y1="106.8" x2="686" y2="106.8" stroke="#000" stroke-width="4.6" stroke-linecap="round"/>
<text x="696.8" y="95" class="lg">: V<tspan style="font-size:7.5px" dy="1.8">λ</tspan></text>
<text x="696.8" y="109.6" class="lg">: white</text>
<text x="182" y="388.80" class="ax" text-anchor="end">0,0</text>
<text x="182" y="324.66" class="ax" text-anchor="end">0,2</text>
<text x="182" y="260.52" class="ax" text-anchor="end">0,4</text>
<text x="182" y="196.38" class="ax" text-anchor="end">0,6</text>
<text x="182" y="132.24" class="ax" text-anchor="end">0,8</text>
<text x="182" y="68.10" class="ax" text-anchor="end">1,0</text>
<text x="186.20" y="401.7" class="ax" text-anchor="middle">250</text>
<text x="237.84" y="401.7" class="ax" text-anchor="middle">300</text>
<text x="289.47" y="401.7" class="ax" text-anchor="middle">350</text>
<text x="341.11" y="401.7" class="ax" text-anchor="middle">400</text>
<text x="392.75" y="401.7" class="ax" text-anchor="middle">450</text>
<text x="444.38" y="401.7" class="ax" text-anchor="middle">500</text>
<text x="496.02" y="401.7" class="ax" text-anchor="middle">550</text>
<text x="547.65" y="401.7" class="ax" text-anchor="middle">600</text>
<text x="599.29" y="401.7" class="ax" text-anchor="middle">650</text>
<text x="650.93" y="401.7" class="ax" text-anchor="middle">700</text>
<text x="702.56" y="401.7" class="ax" text-anchor="middle">750</text>
<text x="754.20" y="401.7" class="ax" text-anchor="middle">800</text>
<text x="754.2" y="422" class="ax" text-anchor="end"><tspan font-style="italic" font-family="Liberation Serif">λ</tspan> / nm</text>
<text x="136" y="75.2" class="phi"><tspan font-style="italic">Φ</tspan><tspan font-size="10.5" dy="3.6">rel</tspan></text>
<text x="413.5" y="58.8" class="wm">GW P9LR35.PM Gen5</text>
<g class="title"><text x="7.5" y="23" textLength="12.2" lengthAdjust="spacingAndGlyphs">Φ</text><text x="21.3" y="27.8" style="font-size:11px;stroke-width:0;fill:#606060">rel</text><text x="38.3" y="23">= f (λ);</text><text x="93.1" y="23">I</text><text x="97" y="28" style="font-size:11px;stroke-width:0;fill:#606060">F</text><text x="108.6" y="23">= 180 mA; T</text><text x="204.8" y="27.5" style="font-size:11px;stroke-width:0;fill:#606060">J</text><text x="214.5" y="23">= 25 °C</text></g>
</svg>
</body></html>
